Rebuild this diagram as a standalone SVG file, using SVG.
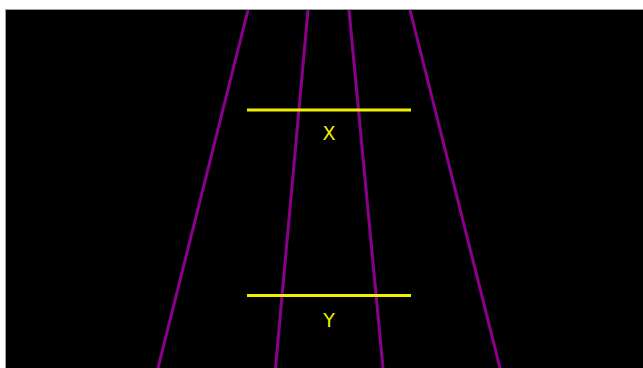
<svg xmlns="http://www.w3.org/2000/svg" width="643" height="368" viewBox="0 0 643 368">
<style>
.ray{stroke:#8b008b;stroke-width:3;fill:none}
.bar{stroke:#f0f000;stroke-width:3;fill:none}
.lbl{fill:#f0f000;font-family:"DejaVu Sans",sans-serif;font-size:19px;text-anchor:middle}
</style>
<rect x="0" y="0" width="643" height="368" fill="#ffffff"/>
<rect x="5.5" y="9.5" width="640" height="362" fill="#000000" stroke="#a0a0a0" stroke-width="1"/>
<g id="connectors">
<line class="ray" x1="248" y1="10" x2="158" y2="368"/>
<line class="ray" x1="308" y1="10" x2="275.5" y2="368"/>
<line class="ray" x1="349" y1="10" x2="383" y2="368"/>
<line class="ray" x1="410" y1="10" x2="500" y2="368"/>
</g>
<g id="X">
<line class="bar" x1="247" y1="110" x2="411" y2="110"/>
<text class="lbl" x="329" y="140">X</text>
</g>
<g id="Y">
<line class="bar" x1="247" y1="295.5" x2="411" y2="295.5"/>
<text class="lbl" x="329" y="327">Y</text>
</g>
</svg>
